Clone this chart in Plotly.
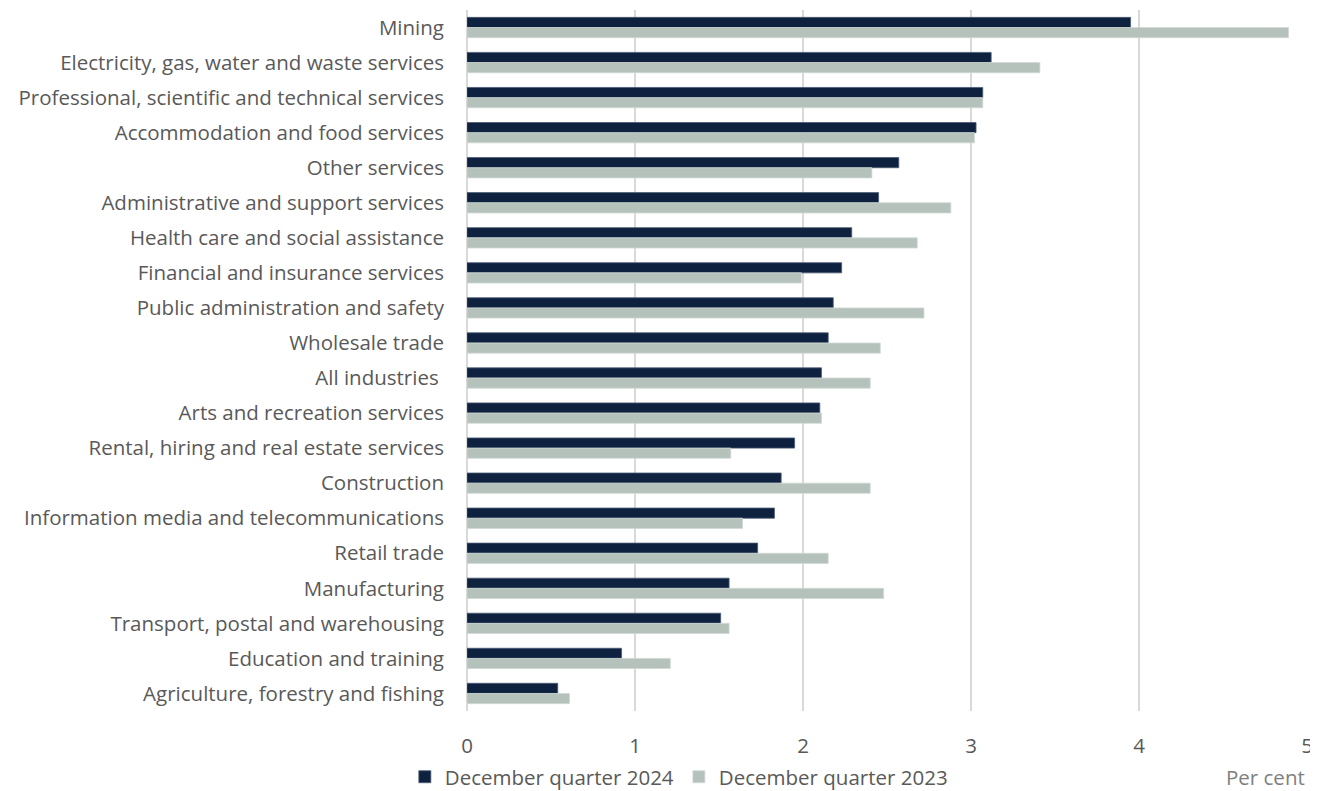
import plotly.graph_objects as go

industrias = [
    "Mining",
    "Electricity, gas, water and waste services",
    "Professional, scientific and technical services",
    "Accommodation and food services",
    "Other services",
    "Administrative and support services",
    "Health care and social assistance",
    "Financial and insurance services",
    "Public administration and safety",
    "Wholesale trade",
    "All industries ",
    "Arts and recreation services",
    "Rental, hiring and real estate services",
    "Construction",
    "Information media and telecommunications",
    "Retail trade",
    "Manufacturing",
    "Transport, postal and warehousing",
    "Education and training",
    "Agriculture, forestry and fishing",
]
dic_2024 = [3.95, 3.12, 3.07, 3.03, 2.57, 2.45, 2.29, 2.23, 2.18, 2.15,
            2.11, 2.10, 1.95, 1.87, 1.83, 1.73, 1.56, 1.51, 0.92, 0.54]
dic_2023 = [4.89, 3.41, 3.07, 3.02, 2.41, 2.88, 2.68, 1.99, 2.72, 2.46,
            2.40, 2.11, 1.57, 2.40, 1.64, 2.15, 2.48, 1.56, 1.21, 0.61]

fuente = "Open Sans"
gris_texto = "#595959"
tam = 20.5

fig = go.Figure()
fig.add_trace(go.Bar(y=industrias, x=dic_2024, orientation="h",
                     name="December quarter 2024",
                     marker=dict(color="#0e2240", line=dict(color="#4a5a72", width=0.8))))
fig.add_trace(go.Bar(y=industrias, x=dic_2023, orientation="h",
                     name="December quarter 2023",
                     marker=dict(color="#b5c2bc", line=dict(color="#d0d8d4", width=0.8))))

# la pagina tiene 8px de margen en el body
fig.update_layout(
    width=1310, height=783,
    margin=dict(l=459, r=11, t=2, b=80, autoexpand=False),
    barmode="group", bargap=0.42, bargroupgap=0,
    plot_bgcolor="white", paper_bgcolor="white",
    font=dict(family=fuente, size=tam, color=gris_texto),
    legend=dict(orientation="h", x=-0.074, xanchor="left", y=-0.094, yanchor="middle",
                font=dict(size=tam, color=gris_texto), itemwidth=30, tracegroupgap=0),
    annotations=[dict(text="Per cent", xref="paper", yref="paper", x=1.0, y=-0.094,
                      xanchor="right", yanchor="middle", showarrow=False,
                      font=dict(size=tam, color="#7f7f7f"))],
)
fig.update_xaxes(range=[0, 5], dtick=1, showgrid=True, gridcolor="#d9d9d9", gridwidth=1.5,
                 zeroline=True, zerolinecolor="#d9d9d9", zerolinewidth=1.5, automargin=False,
                 ticks="", ticklabelstandoff=20, tickfont=dict(size=tam, color=gris_texto))
fig.update_yaxes(autorange="reversed", ticks="", showgrid=False, ticklabelstandoff=22,
                 automargin=False, tickfont=dict(size=tam, color=gris_texto))

fig.write_html("out.html")
